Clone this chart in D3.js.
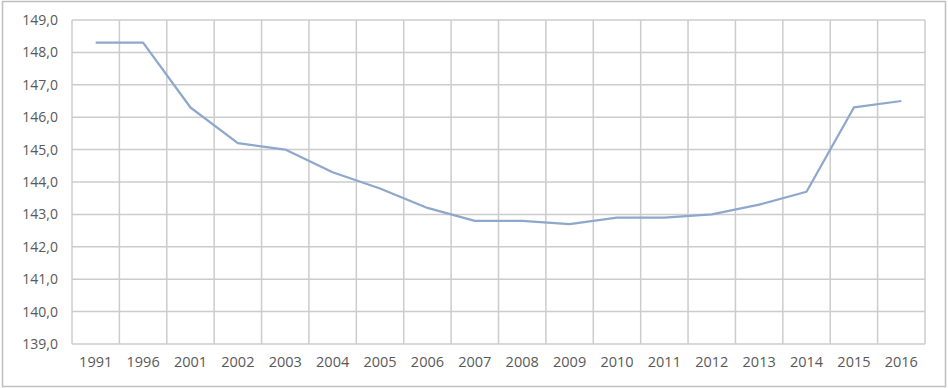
<!DOCTYPE html>
<html>
<head>
<meta charset="utf-8">
<script src="https://d3js.org/d3.v7.min.js"></script>
<style>
  body { margin: 0; background: #fff; }
  text { font-family: "Open Sans", "Liberation Sans", sans-serif; fill: #595959; }
</style>
</head>
<body>
<svg id="chart" width="948" height="388"></svg>
<script>
var years = ["1991", "1996", "2001", "2002", "2003", "2004", "2005", "2006", "2007",
             "2008", "2009", "2010", "2011", "2012", "2013", "2014", "2015", "2016"]
var population = [148.3, 148.3, 146.3, 145.2, 145.0, 144.3, 143.8, 143.2, 142.8,
                  142.8, 142.7, 142.9, 142.9, 143.0, 143.3, 143.7, 146.3, 146.5]
var yTicks = [139, 140, 141, 142, 143, 144, 145, 146, 147, 148, 149]

var svg = d3.select("#chart"),
    margin = {top: 20, left: 72, bottom: 44, right: 23},
    width = +svg.attr("width"),
    height = +svg.attr("height")

// outer chart frame
svg.append("rect")
    .attr("x", 2.5).attr("y", 1.5)
    .attr("width", width - 5).attr("height", height - 3)
    .attr("fill", "none")
    .attr("stroke", "#bfbfbf")
    .attr("stroke-width", 1.5)

var xScale = d3.scaleBand()
    .domain(years)
    .range([margin.left, width - margin.right])

var yScale = d3.scaleLinear()
    .domain([139, 149])
    .range([height - margin.bottom, margin.top])

var fmt = d => d3.format(".1f")(d).replace(".", ",")

// horizontal grid
svg.append("g")
    .selectAll("line")
    .data(yTicks)
    .enter().append("line")
    .attr("x1", margin.left).attr("x2", width - margin.right)
    .attr("y1", d => yScale(d)).attr("y2", d => yScale(d))
    .attr("stroke", "#cccccc")
    .attr("stroke-width", 1.5)

// vertical grid at band edges
var edges = years.map(d => xScale(d)).concat([xScale.range()[1]])
svg.append("g")
    .selectAll("line")
    .data(edges)
    .enter().append("line")
    .attr("x1", d => d).attr("x2", d => d)
    .attr("y1", margin.top).attr("y2", height - margin.bottom)
    .attr("stroke", "#cccccc")
    .attr("stroke-width", 1.5)

var yAxis = svg.append("g")
    .attr("transform", `translate(${margin.left},0)`)
    .call(d3.axisLeft(yScale).tickValues(yTicks).tickFormat(fmt).tickSize(0).tickPadding(14))
yAxis.select(".domain").remove()
yAxis.selectAll("text").style("font-size", "14px").attr("fill", "#595959")

var xAxis = svg.append("g")
    .attr("transform", `translate(0,${height - margin.bottom})`)
    .call(d3.axisBottom(xScale).tickSize(0).tickPadding(13))
xAxis.select(".domain").remove()
xAxis.selectAll("text").style("font-size", "14.5px").attr("fill", "#595959")

var line = d3.line()
    .x((d, i) => xScale(years[i]) + xScale.bandwidth() / 2)
    .y(d => yScale(d))

svg.append("path")
    .datum(population)
    .attr("d", line)
    .attr("fill", "none")
    .attr("stroke", "#8ea8cc")
    .attr("stroke-width", 2.25)
    .attr("stroke-linejoin", "round")
</script>
</body>
</html>
